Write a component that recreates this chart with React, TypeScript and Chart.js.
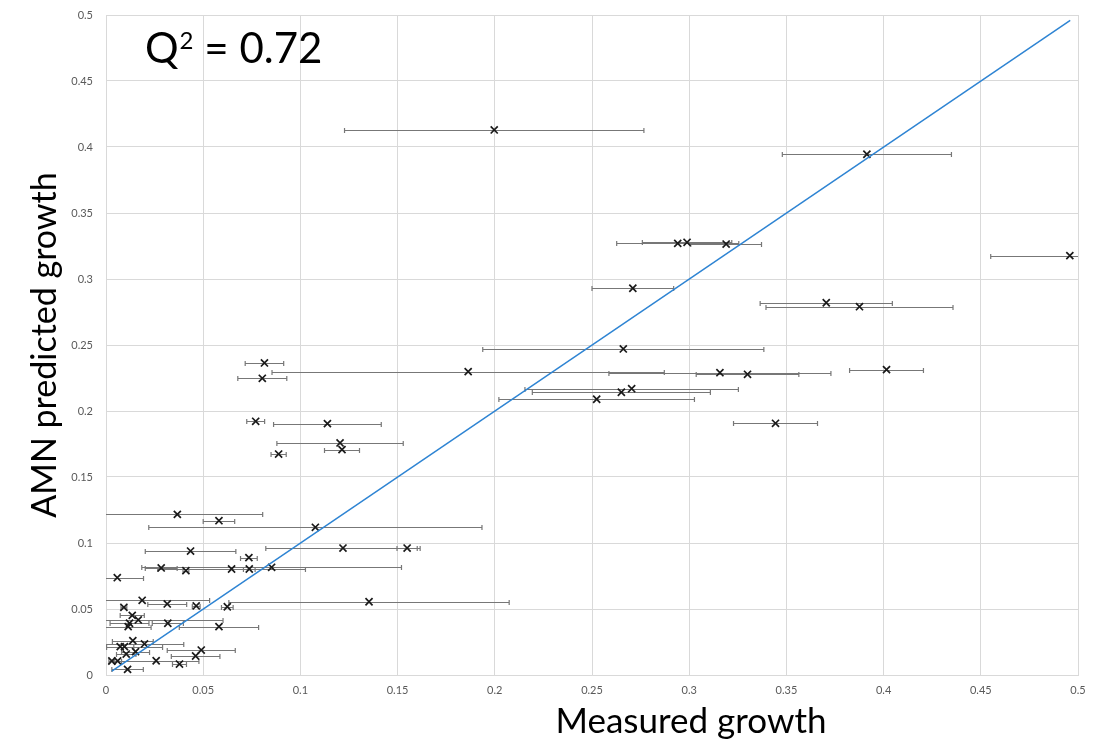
import React, { useEffect, useRef } from 'react';
import { Chart, registerables } from 'chart.js';

Chart.register(...registerables);

// Measured growth (x), its uncertainty, and the AMN prediction (y) for each sample
const measured = [
  0.1997, 0.3914, 0.4958, 0.2941, 0.2989, 0.319, 0.271, 0.3705, 0.3876, 0.2661,
  0.1863, 0.3158, 0.33, 0.4015, 0.2704, 0.2651, 0.2524, 0.3444, 0.0815, 0.0804,
  0.077, 0.1139, 0.1204, 0.1214, 0.0888, 0.0367, 0.0581, 0.1077, 0.0435, 0.0735,
  0.0852, 0.0284, 0.0411, 0.0646, 0.0737, 0.0058, 0.1219, 0.1549, 0.1353, 0.0186,
  0.0315, 0.0092, 0.0464, 0.0624, 0.0135, 0.0166, 0.0318, 0.0121, 0.0114, 0.0581,
  0.0138, 0.0198, 0.0073, 0.0095, 0.049, 0.0152, 0.0104, 0.0461, 0.0258, 0.003,
  0.006, 0.0378, 0.0111,
];

const predicted = [
  0.4129, 0.3945, 0.3177, 0.327, 0.3278, 0.3265, 0.293, 0.282, 0.279, 0.247,
  0.2298, 0.229, 0.2278, 0.2313, 0.2169, 0.2142, 0.2089, 0.1907, 0.2364, 0.2248,
  0.1922, 0.1904, 0.1758, 0.1707, 0.1674, 0.1217, 0.1169, 0.1119, 0.0939, 0.0889,
  0.0816, 0.0811, 0.079, 0.0803, 0.0803, 0.0737, 0.0962, 0.0962, 0.0555, 0.0566,
  0.0538, 0.0513, 0.0523, 0.0517, 0.0452, 0.0417, 0.0392, 0.0392, 0.0366, 0.0366,
  0.026, 0.0235, 0.0215, 0.0215, 0.0189, 0.0177, 0.0159, 0.0144, 0.0108, 0.0106,
  0.0106, 0.0083, 0.0043,
];

const measuredErr = [
  0.077, 0.0435, 0.0407, 0.0314, 0.023, 0.0182, 0.021, 0.034, 0.0481, 0.0723,
  0.1009, 0.0571, 0.0264, 0.019, 0.0549, 0.0458, 0.0503, 0.0216, 0.0099, 0.0126,
  0.0046, 0.0277, 0.0325, 0.009, 0.0039, 0.0439, 0.0081, 0.0857, 0.0233, 0.0043,
  0.0668, 0.0082, 0.0015, 0.038, 0.003, 0.0135, 0.0397, 0.0052, 0.0721, 0.0347,
  0.01, 0.0015, 0.002, 0.003, 0.0062, 0.0436, 0.008, 0.01, 0.0118, 0.0204,
  0.0105, 0.0202, 0.007, 0.0196, 0.0175, 0.0072, 0.005, 0.0125, 0.022, 0.0015,
  0.002, 0.0036, 0.0081,
];

// Identity line y = x spanning the measured range
const fitX = [0.003, 0.496];
const fitY = [0.003, 0.496];

const axisMin = 0;
const axisMax = 0.5;
const axisStep = 0.05;

const q2Value = '0.72';
const xTitle = 'Measured growth';
const yTitle = 'AMN predicted growth';

const FONT = 'Lato, "Open Sans", sans-serif';

const errorBarsPlugin = {
  id: 'errorBars',
  beforeDatasetsDraw(chart: any) {
    const { ctx, chartArea, scales } = chart;
    const xs = scales.x;
    const ys = scales.y;
    ctx.save();
    ctx.beginPath();
    ctx.rect(chartArea.left, chartArea.top, chartArea.right - chartArea.left, chartArea.bottom - chartArea.top);
    ctx.clip();
    ctx.strokeStyle = '#777777';
    ctx.lineWidth = 1.2;
    const cap = 2.5;
    measured.forEach((mx, i) => {
      const py = Math.round(ys.getPixelForValue(predicted[i])) + 0.5;
      const x0 = xs.getPixelForValue(mx - measuredErr[i]);
      const x1 = xs.getPixelForValue(mx + measuredErr[i]);
      ctx.beginPath();
      ctx.moveTo(x0, py);
      ctx.lineTo(x1, py);
      ctx.moveTo(x0, py - cap);
      ctx.lineTo(x0, py + cap);
      ctx.moveTo(x1, py - cap);
      ctx.lineTo(x1, py + cap);
      ctx.stroke();
    });
    ctx.restore();
  },
};

// Q² annotation plus the x-axis title, which sits right of the plot centre
const labelsPlugin = {
  id: 'labels',
  afterDraw(chart: any) {
    const { ctx, chartArea } = chart;
    ctx.save();
    ctx.fillStyle = '#000000';
    ctx.textBaseline = 'alphabetic';
    ctx.textAlign = 'left';
    let x = chartArea.left + 39;
    const base = chartArea.top + 48;
    ctx.font = `42px ${FONT}`;
    ctx.fillText('Q', x, base);
    x += ctx.measureText('Q').width + 1;
    ctx.font = `24px ${FONT}`;
    ctx.fillText('2', x, base - 14);
    x += ctx.measureText('2').width;
    ctx.font = `42px ${FONT}`;
    ctx.fillText(` = ${q2Value}`, x, base);

    ctx.font = `35px ${FONT}`;
    ctx.textAlign = 'center';
    ctx.textBaseline = 'middle';
    ctx.fillText(xTitle, chartArea.left + 585, chartArea.bottom + 47);
    ctx.restore();
  },
};

export default function App() {
  const canvasRef = useRef<HTMLCanvasElement | null>(null);

  useEffect(() => {
    if (!canvasRef.current) return;
    const points = measured.map((mx, i) => ({ x: mx, y: predicted[i] }));
    const fitLine = fitX.map((fx, i) => ({ x: fx, y: fitY[i] }));

    const gridColor = '#d9d9d9';
    const tickColor = '#595959';

    const chart = new Chart(canvasRef.current, {
      type: 'scatter',
      data: {
        datasets: [
          {
            label: 'Identity',
            data: fitLine,
            showLine: true,
            borderColor: '#2E84D3',
            borderWidth: 1.5,
            pointRadius: 0,
            fill: false,
            order: 0,
          },
          {
            label: 'Samples',
            data: points,
            pointStyle: 'crossRot',
            pointRadius: 5,
            borderColor: '#1a1a1a',
            backgroundColor: '#1a1a1a',
            pointBorderWidth: 1.7,
            order: 1,
          },
        ],
      },
      options: {
        animation: false,
        responsive: true,
        maintainAspectRatio: false,
        layout: { padding: { left: 0, right: 18, top: 15, bottom: 0 } },
        plugins: {
          legend: { display: false },
          tooltip: { enabled: false },
        },
        scales: {
          x: {
            type: 'linear',
            min: axisMin,
            max: axisMax,
            ticks: {
              stepSize: axisStep,
              color: tickColor,
              font: { family: FONT, size: 11 },
              padding: 9,
              maxRotation: 0,
              callback: (v: any) => String(+Number(v).toFixed(2)),
            },
            grid: { color: gridColor, lineWidth: 1, drawTicks: false },
            border: { color: gridColor, width: 1 },
            title: { display: false, text: xTitle },
            afterFit: (scale: any) => {
              scale.height = 66;
              scale.paddingLeft = 0;
              scale.paddingRight = 0;
            },
          },
          y: {
            type: 'linear',
            min: axisMin,
            max: axisMax,
            ticks: {
              stepSize: axisStep,
              color: tickColor,
              font: { family: FONT, size: 11 },
              padding: 13,
              callback: (v: any) => String(+Number(v).toFixed(2)),
            },
            grid: { color: gridColor, lineWidth: 1, drawTicks: false },
            border: { color: gridColor, width: 1 },
            title: {
              display: true,
              text: yTitle,
              color: '#000000',
              font: { family: FONT, size: 34, lineHeight: 1 },
              padding: { top: 28, bottom: 0 },
            },
            afterFit: (scale: any) => {
              scale.width = 106;
              scale.paddingTop = 0;
              scale.paddingBottom = 0;
            },
          },
        },
      },
      plugins: [errorBarsPlugin, labelsPlugin],
    });

    return () => chart.destroy();
  }, []);

  return (
    <div
      style={{
        position: 'fixed',
        left: 0,
        top: 0,
        width: '1096px',
        height: '741px',
        background: '#ffffff',
      }}
    >
      <canvas ref={canvasRef} />
    </div>
  );
}
